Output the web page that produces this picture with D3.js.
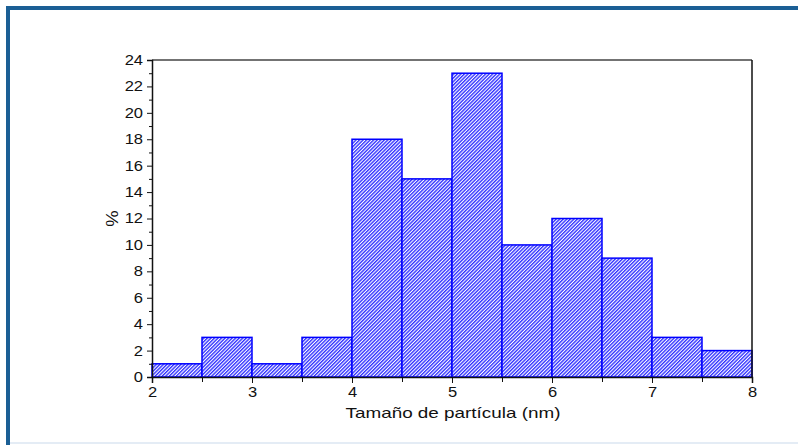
<!DOCTYPE html>
<html>
<head>
<meta charset="utf-8">
<script src="https://cdn.jsdelivr.net/npm/d3@7"></script>
<style>
  body { margin: 0; background: #fff; }
  text { font-family: "Liberation Sans", Arial, sans-serif; fill: #111; }
</style>
</head>
<body>
<div id="chart"></div>
<script>
// bin edges (nm) and percentages
const binStarts = [2, 2.5, 3, 3.5, 4, 4.5, 5, 5.5, 6, 6.5, 7, 7.5];
const percents = [1, 3, 1, 3, 18, 15, 23, 10, 12, 9, 3, 2];
const binWidth = 0.5;
const xTicks = [2, 3, 4, 5, 6, 7, 8];
const yTicks = [0, 2, 4, 6, 8, 10, 12, 14, 16, 18, 20, 22, 24];

const width = 798, height = 445;
const margin = { top: 60, right: 46, bottom: 68, left: 152 };

const svg = d3.select("#chart").append("svg")
  .attr("width", width)
  .attr("height", height);

// outer frame
svg.append("rect").attr("x", 6).attr("y", 6).attr("width", width - 6).attr("height", 4).attr("fill", "#1b5f95");
svg.append("rect").attr("x", 6).attr("y", 6).attr("width", 4).attr("height", height - 6).attr("fill", "#1b5f95");
svg.append("rect").attr("x", 10).attr("y", 442).attr("width", width - 10).attr("height", 2).attr("fill", "#e4ecf5");

// hatch pattern
const defs = svg.append("defs");
const pat = defs.append("pattern")
  .attr("id", "hatch")
  .attr("patternUnits", "userSpaceOnUse")
  .attr("width", 2.5).attr("height", 2.5)
  .attr("patternTransform", "rotate(45)");
pat.append("rect").attr("width", 2.5).attr("height", 2.5).attr("fill", "#fff");
pat.append("line")
  .attr("x1", 0.7).attr("y1", 0).attr("x2", 0.7).attr("y2", 2.5)
  .attr("stroke", "#2a2aff").attr("stroke-width", 1.35);

const x = d3.scaleLinear().domain([2, 8]).range([margin.left, width - margin.right]);
const y = d3.scaleLinear().domain([0, 24]).range([height - margin.bottom, margin.top]);

// bars
svg.append("g")
  .selectAll("rect")
  .data(binStarts)
  .enter()
    .append("rect")
    .attr("x", (d) => x(d))
    .attr("y", (d, i) => y(percents[i]))
    .attr("width", (d) => x(d + binWidth) - x(d))
    .attr("height", (d, i) => y(0) - y(percents[i]))
    .attr("fill", "url(#hatch)")
    .attr("stroke", "#0000ff")
    .attr("stroke-width", 1.5);

// frame top/right
svg.append("line")
  .attr("x1", x(2)).attr("x2", x(8)).attr("y1", y(24)).attr("y2", y(24))
  .attr("stroke", "#444").attr("stroke-width", 1.5);
svg.append("line")
  .attr("x1", x(8)).attr("x2", x(8)).attr("y1", y(24)).attr("y2", y(0))
  .attr("stroke", "#111").attr("stroke-width", 1.5);

// x axis
svg.append("g")
  .attr("transform", `translate(0, ${y(0)})`)
  .call(d3.axisBottom(x).tickValues(xTicks).tickSize(6).tickPadding(4).tickFormat(d3.format("d")));
svg.append("g")
  .attr("transform", `translate(0, ${y(0)})`)
  .call(d3.axisBottom(x).tickValues(d3.range(2.5, 8, 1)).tickSize(5).tickFormat(""))
  .select(".domain").remove();

// y axis
svg.append("g")
  .attr("transform", `translate(${x(2)}, 0)`)
  .call(d3.axisLeft(y).tickValues(yTicks).tickSize(5).tickPadding(4));
svg.append("g")
  .attr("transform", `translate(${x(2)}, 0)`)
  .call(d3.axisLeft(y).tickValues(d3.range(1, 24, 2)).tickSize(3).tickFormat(""))
  .select(".domain").remove();

svg.selectAll(".domain").attr("stroke", "#111").attr("stroke-width", 1.5);
svg.selectAll(".tick line").attr("stroke", "#111");
svg.selectAll(".tick text")
  .attr("font-size", 14)
  .attr("fill", "#111")
  .attr("font-family", "Liberation Sans, Arial, sans-serif");

// reference text is a bit wider than the font, stretch it
const stretch = (sel, k) => sel.each(function() {
  const w = this.getComputedTextLength();
  d3.select(this).attr("textLength", w * k).attr("lengthAdjust", "spacingAndGlyphs");
});
stretch(svg.selectAll(".tick text"), 1.18);

// axis titles
svg.append("text")
  .attr("text-anchor", "middle")
  .attr("x", (x(2) + x(8)) / 2 + 1)
  .attr("y", 418)
  .attr("font-size", 15)
  .attr("textLength", 215)
  .attr("lengthAdjust", "spacingAndGlyphs")
  .text("Tamaño de partícula (nm)");

const yLabel = svg.append("text")
  .attr("text-anchor", "middle")
  .attr("transform", `translate(118, ${y(12)}) rotate(-90)`)
  .attr("font-size", 16)
  .text("%");
stretch(yLabel, 1.15);
</script>
</body>
</html>
